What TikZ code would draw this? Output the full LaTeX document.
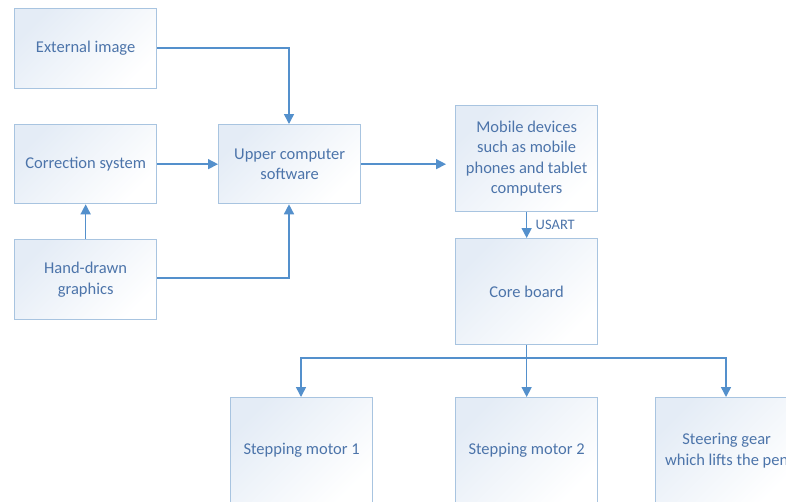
\documentclass[tikz,border=0pt]{standalone}
\usepackage{fontspec}
\setmainfont{Carlito}
\usetikzlibrary{arrows.meta}
\definecolor{txtblue}{RGB}{76,116,170}
\definecolor{edgeblue}{RGB}{168,196,224}
\definecolor{lineblue}{RGB}{84,144,204}
\definecolor{fillblue}{RGB}{228,236,246}
\tikzset{
  blk/.style={draw=edgeblue, line width=1.3pt, top color=fillblue, bottom color=white,
    shading angle=45, inner sep=0pt, align=center, text=txtblue,
    font=\fontsize{16.5}{20.5}\selectfont, anchor=north west},
  conn/.style={draw=lineblue, line width=1.5pt, -{Triangle[length=10pt,width=10pt]}},
}
\begin{document}
\begin{tikzpicture}[x=1pt,y=-1pt]
\useasboundingbox (0,0) rectangle (786,501);
\clip (0,0) rectangle (786,501);
\fill[white] (0,0) rectangle (786,501);
\node[blk, minimum width=142pt, minimum height=80pt] (ext) at (14,8) {External image};
\node[blk, minimum width=142pt, minimum height=79pt] (cor) at (14,124) {Correction system};
\node[blk, minimum width=142pt, minimum height=80pt] (hand) at (14,239) {Hand-drawn\\graphics};
\node[blk, minimum width=142pt, minimum height=79pt] (up) at (218,124) {Upper computer\\software};
\node[blk, minimum width=142pt, minimum height=106pt] (mob) at (455,105) {Mobile devices\\such as mobile\\phones and tablet\\computers};
\node[blk, minimum width=142pt, minimum height=106pt] (core) at (455,238) {Core board};
\node[blk, minimum width=142pt, minimum height=106pt] (sm1) at (230,397) {Stepping motor 1};
\node[blk, minimum width=142pt, minimum height=106pt] (sm2) at (455,397) {Stepping motor 2};
\node[blk, minimum width=142pt, minimum height=106pt] (sg) at (655,397) {Steering gear\\which lifts the pen};

\coordinate (j1) at (289,48);
\coordinate (j2) at (289,278);
\draw[conn] (ext.east |- 0,48) -- (j1) -- (up.north -| j1);
\draw[conn] (cor.east) -- (up.west);
\draw[conn] (hand.north) -- (cor.south);
\draw[conn] (hand.east |- j2) -- (j2) -- (up.south -| j2);
\draw[conn, shorten >=9pt] (up.east) -- (mob.west |- up.east);
\draw[conn] (mob.south) -- node[right=5pt, text=txtblue, font=\fontsize{14.5}{16}\selectfont] {USART} (core.north);
\coordinate (bus) at (526,358);
\coordinate (b1) at (301,358);
\coordinate (b3) at (726,358);
\draw[conn] (core.south) -- (sm2.north);
\draw[conn] (bus) -- (b1) -- (sm1.north -| b1);
\draw[conn] (bus) -- (b3) -- (sg.north -| b3);
\end{tikzpicture}
\end{document}
